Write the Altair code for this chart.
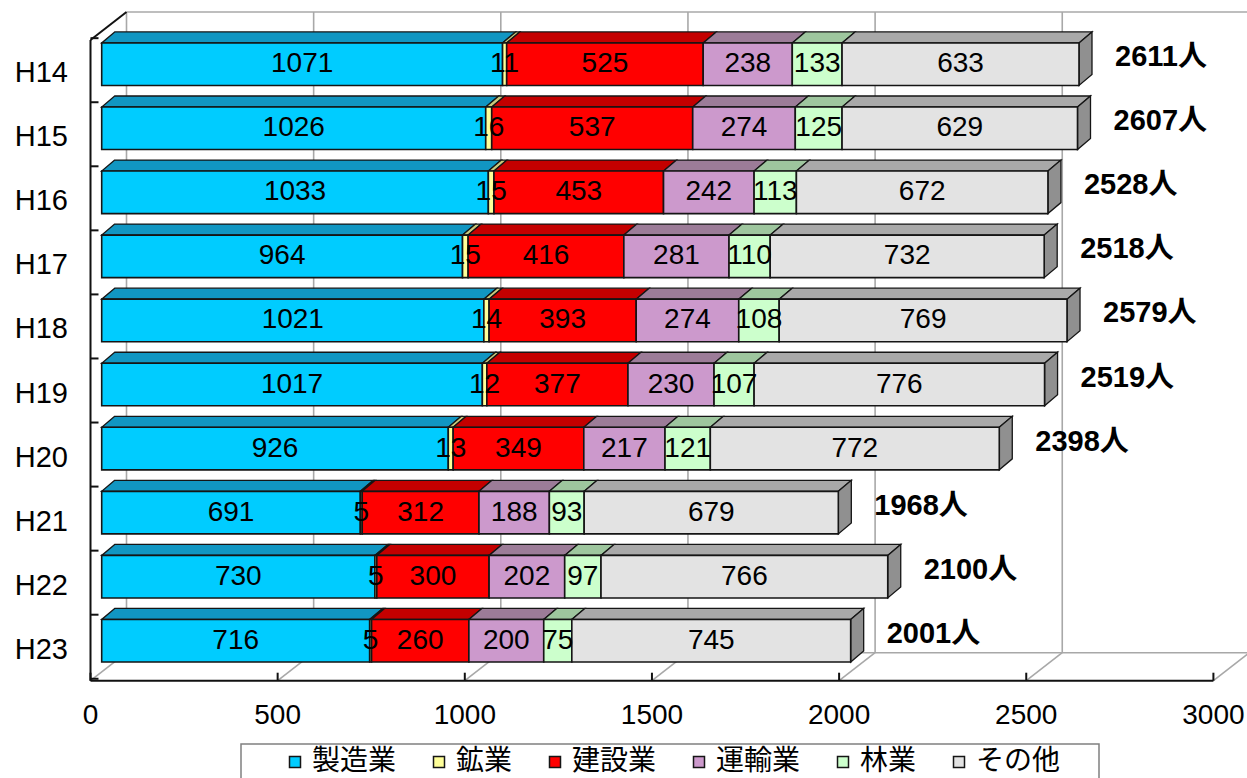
import altair as alt
import pandas as pd

# ---- data -------------------------------------------------------------
years = ["H14", "H15", "H16", "H17", "H18", "H19", "H20", "H21", "H22", "H23"]
industries = ["製造業", "鉱業", "建設業", "運輸業", "林業", "その他"]
manufacturing = [1071, 1026, 1033, 964, 1021, 1017, 926, 691, 730, 716]
mining = [11, 16, 15, 15, 14, 12, 13, 5, 5, 5]
construction = [525, 537, 453, 416, 393, 377, 349, 312, 300, 260]
transport = [238, 274, 242, 281, 274, 230, 217, 188, 202, 200]
forestry = [133, 125, 113, 110, 108, 107, 121, 93, 97, 75]
other = [633, 629, 672, 732, 769, 776, 772, 679, 766, 745]
totals = [2611, 2607, 2528, 2518, 2579, 2519, 2398, 1968, 2100, 2001]
x_ticks = [0, 500, 1000, 1500, 2000, 2500, 3000]

series = [manufacturing, mining, construction, transport, forestry, other]

# ---- styling ----------------------------------------------------------
front_colors = ["#00CCFF", "#FFFF99", "#FF0000", "#CC99CC", "#CCFFCC", "#E3E3E3"]
top_colors = ["#1196C2", "#CACA7C", "#C40000", "#9C7C98", "#9EC69E", "#A9A9A9"]
side_color = "#909090"
edge = "#151515"
grid_gray = "#A8A8A8"

W, H = 1247, 778
K = 0.3743                 # pixels per person along the value axis
X0_PX = 101.7              # pixel position of zero on the bar front plane
ROW0_PX, ROW_PX = 64.2, 64.06

HALF = 0.332               # half height of a bar front, in rows
BAR_DX = 13 / K            # bar depth (x shift, value units)
BAR_DY = 11 / ROW_PX       # bar depth (y shift, rows)
WALL_DX = 36 / K           # depth of the chart box
WALL_DY = 28 / ROW_PX
BOX_X = -11.2 / K          # front plane of the box relative to bar fronts
BACK_X = BOX_X + WALL_DX
n = len(years)
FLOOR_FRONT = n - 1 + 0.624
FLOOR_BACK = FLOOR_FRONT - WALL_DY
WALL_TOP_FRONT = -0.378
WALL_TOP_BACK = WALL_TOP_FRONT - WALL_DY


def px_to_x(px):
    return (px - X0_PX) / K


def px_to_row(py):
    return (py - ROW0_PX) / ROW_PX


x_scale = alt.Scale(domain=[px_to_x(0), px_to_x(W)], nice=False, zero=False)
y_scale = alt.Scale(domain=[px_to_row(0), px_to_row(H)], nice=False, zero=False, reverse=True)

NUM_FONT = "Liberation Sans, Arial, Noto Sans CJK JP"
AX_FONT = "Liberation Sans, Arial, Noto Sans CJK JP"
JP_FONT = "Noto Sans CJK JP"

# ---- derived tables ---------------------------------------------------
seg_rows, top_rows, side_rows = [], [], []
for i, yr in enumerate(years):
    start = 0
    for j, ind in enumerate(industries):
        v = series[j][i]
        end = start + v
        seg_rows.append(dict(year=yr, row=i, ind=ind, value=v, start=start, end=end,
                             mid=start + v / 2, y0=i - HALF, y1=i + HALF))
        key = f"{i}-{j}"
        top_rows.append(dict(key=key, yy=i - HALF, xa=start, xb=end, c=top_colors[j]))
        top_rows.append(dict(key=key, yy=i - HALF - BAR_DY, xa=start + BAR_DX,
                             xb=end + BAR_DX, c=top_colors[j]))
        start = end
    side_rows.append(dict(key=i, xs=start, ya=i - HALF, yb=i + HALF))
    side_rows.append(dict(key=i, xs=start + BAR_DX, ya=i - HALF - BAR_DY, yb=i + HALF - BAR_DY))

segs = pd.DataFrame(seg_rows)
tops = pd.DataFrame(top_rows)
sides = pd.DataFrame(side_rows)
tot = pd.DataFrame(dict(year=years, row=range(n), total=totals,
                        label=[f"{t}人" for t in totals]))

gray_lines, black_lines = [], []
for v in x_ticks:
    gray_lines.append(dict(x=v + BACK_X, x2=v + BACK_X, y=WALL_TOP_BACK, y2=FLOOR_BACK))
    gray_lines.append(dict(x=v + BOX_X, x2=v + BACK_X, y=FLOOR_FRONT, y2=FLOOR_BACK))
    black_lines.append(dict(x=v + BOX_X, x2=v + BOX_X, y=FLOOR_FRONT, y2=FLOOR_FRONT - 8 / ROW_PX))
gray_lines.append(dict(x=BACK_X, x2=x_ticks[-1] + BACK_X, y=WALL_TOP_BACK, y2=WALL_TOP_BACK))
gray_lines.append(dict(x=BACK_X, x2=x_ticks[-1] + BACK_X, y=FLOOR_BACK, y2=FLOOR_BACK))
black_lines.append(dict(x=BOX_X, x2=x_ticks[-1] + BOX_X, y=FLOOR_FRONT, y2=FLOOR_FRONT))
black_lines.append(dict(x=BOX_X, x2=BOX_X, y=WALL_TOP_FRONT, y2=FLOOR_FRONT))
black_lines.append(dict(x=BOX_X, x2=BACK_X, y=WALL_TOP_FRONT, y2=WALL_TOP_BACK))
for b in range(n + 1):
    yb = b - 0.5 + 6 / ROW_PX
    black_lines.append(dict(x=BOX_X, x2=BOX_X + 8 / K, y=yb, y2=yb))
gray_df = pd.DataFrame(gray_lines)
black_df = pd.DataFrame(black_lines)
ticks_df = pd.DataFrame(dict(v=x_ticks, xp=[v + BOX_X for v in x_ticks],
                             lab=[str(v) for v in x_ticks], yp=FLOOR_FRONT))
years_df = pd.DataFrame(dict(year=years, row=range(n), xp=BOX_X - 22.5 / K))
legend_box = pd.DataFrame(dict(x=[px_to_x(241)], x2=[px_to_x(1099)],
                               y=[px_to_row(744)], y2=[px_to_row(H + 10)]))


def X(field):
    return alt.X(field, type="quantitative", scale=x_scale, axis=None, stack=None)


def Y(field):
    return alt.Y(field, type="quantitative", scale=y_scale, axis=None, stack=None)


# ---- chart box --------------------------------------------------------
grid = alt.Chart(gray_df).mark_rule(color=grid_gray, strokeWidth=1.6).encode(
    x=X("x"), x2="x2", y=Y("y"), y2="y2")
frame = alt.Chart(black_df).mark_rule(color="#111111", strokeWidth=2).encode(
    x=X("x"), x2="x2", y=Y("y"), y2="y2")
box = alt.Chart(legend_box).mark_rect(fill="#FFFFFF", stroke="#808080", strokeWidth=1.5).encode(
    x=X("x"), x2="x2", y=Y("y"), y2="y2")

# ---- 3D bars ----------------------------------------------------------
top_faces = alt.Chart(tops).mark_area(orient="horizontal", stroke=edge, strokeWidth=1.3,
                                      strokeJoin="miter").encode(
    y=Y("yy"), x=X("xa"), x2="xb", detail="key:N",
    color=alt.Color("c:N", scale=None))

side_faces = alt.Chart(sides).mark_area(orient="vertical", color=side_color, stroke=edge,
                                        strokeWidth=1.3).encode(
    x=X("xs"), y=Y("ya"), y2="yb", detail="key:N")

fronts = alt.Chart(segs).mark_rect(stroke=edge, strokeWidth=1.6).encode(
    x=X("start"), x2="end", y=Y("y0"), y2="y1",
    color=alt.Color("ind:N", scale=alt.Scale(domain=industries, range=front_colors),
                    legend=alt.Legend(title=None, orient="none", legendX=281, legendY=748,
                                      direction="horizontal", columns=6,
                                      symbolType="square", symbolSize=121,
                                      symbolStrokeColor="#000000", symbolStrokeWidth=1.5,
                                      labelOffset=3,
                                      labelFont=JP_FONT, labelFontSize=28, labelLimit=0,
                                      labelColor="#000000", columnPadding=28,
                                      padding=0)))

values = alt.Chart(segs).mark_text(font=NUM_FONT, fontSize=28, color="#000000",
                                   baseline="middle", align="center").encode(
    x=X("mid"), y=Y("row"), text="value:Q")

totals_txt = alt.Chart(tot).mark_text(font=NUM_FONT, fontSize=29, fontWeight="bold",
                                      color="#000000", baseline="middle", align="left",
                                      dx=36, dy=-7).encode(
    x=X("total"), y=Y("row"), text="label:N")

# ---- axis labels ------------------------------------------------------
year_lbl = alt.Chart(years_df).mark_text(font=AX_FONT, fontSize=29, color="#000000",
                                         align="right", baseline="middle", dy=9).encode(
    x=X("xp"), y=Y("row"), text="year:N")

tick_lbl = alt.Chart(ticks_df).mark_text(font=AX_FONT, fontSize=28, color="#000000",
                                         align="center", baseline="middle", dy=35).encode(
    x=X("xp"), y=Y("yp"), text="lab:N")

chart = alt.layer(grid, frame, box, top_faces, side_faces, fronts, values, totals_txt,
                  year_lbl, tick_lbl).properties(
    width=W, height=H, padding=0, autosize=alt.AutoSizeParams(type="none"),
    background="#FFFFFF"
).configure_view(stroke=None)

chart.save("out.html", embed_options={"renderer": "svg", "actions": False})
